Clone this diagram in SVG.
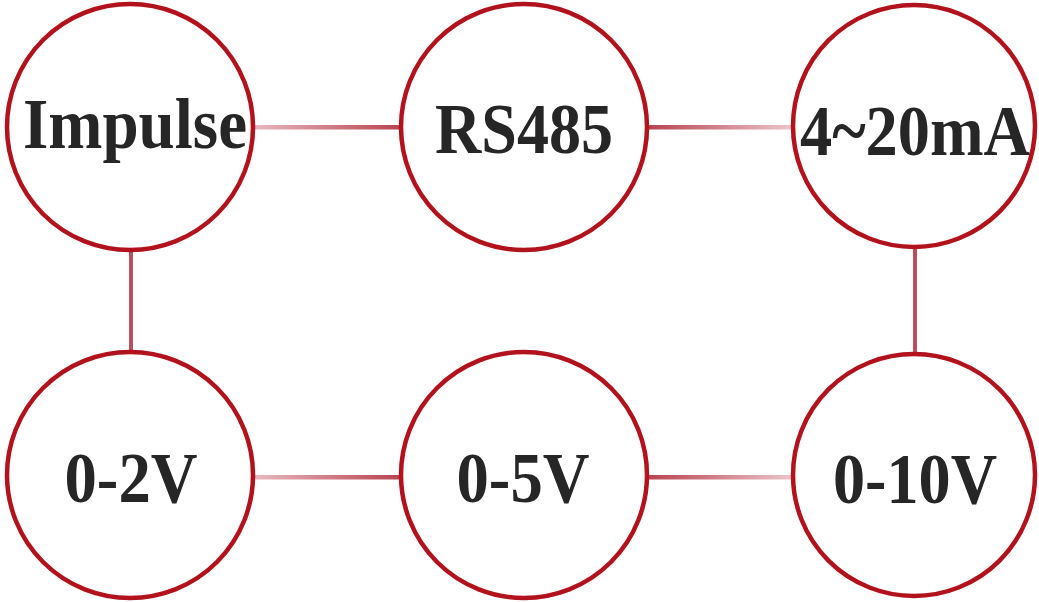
<svg xmlns="http://www.w3.org/2000/svg" width="1039" height="602" viewBox="0 0 1039 602">
  <style>
    .node circle { fill: #ffffff; stroke: #b2121c; stroke-width: 4.5; }
    .node text { font-family: "Liberation Serif", "Times New Roman", serif; font-weight: bold; font-size: 72px; fill: #262626; text-anchor: middle; }
    .conn rect { stroke: none; }
  </style>
  <defs>
    <linearGradient id="gUp" x1="0" y1="0" x2="1" y2="0">
      <stop offset="0" stop-color="#e8b9c0"/>
      <stop offset="1" stop-color="#b8424f"/>
    </linearGradient>
    <linearGradient id="gDown" x1="0" y1="0" x2="1" y2="0">
      <stop offset="0" stop-color="#b8424f"/>
      <stop offset="1" stop-color="#ecc7cc"/>
    </linearGradient>
  </defs>
  <rect width="1039" height="602" fill="#ffffff"/>
  <g id="connectors" class="conn">
    <rect x="254" y="125" width="148" height="4.5" fill="url(#gUp)"/>
    <rect x="646" y="125" width="148" height="4.5" fill="url(#gDown)"/>
    <rect x="254" y="475" width="148" height="4.5" fill="url(#gUp)"/>
    <rect x="646" y="475" width="148" height="4.5" fill="url(#gDown)"/>
    <rect x="129" y="249" width="4" height="105" fill="#b5505c"/>
    <rect x="913" y="246" width="4" height="108" fill="#b5505c"/>
  </g>
  <g id="node-impulse" class="node">
    <circle cx="130" cy="127" r="123"/>
    <text x="135" y="148" textLength="224" lengthAdjust="spacingAndGlyphs">Impulse</text>
  </g>
  <g id="node-rs485" class="node">
    <circle cx="524" cy="127" r="123"/>
    <text x="524" y="153" textLength="178" lengthAdjust="spacingAndGlyphs">RS485</text>
  </g>
  <g id="node-4-20ma" class="node">
    <circle cx="914" cy="126" r="121"/>
    <text x="915" y="155" textLength="230" lengthAdjust="spacingAndGlyphs">4~20mA</text>
  </g>
  <g id="node-0-2v" class="node">
    <circle cx="130" cy="475" r="123"/>
    <text x="131" y="502" textLength="133" lengthAdjust="spacingAndGlyphs">0-2V</text>
  </g>
  <g id="node-0-5v" class="node">
    <circle cx="524" cy="475" r="123"/>
    <text x="523" y="502" textLength="133" lengthAdjust="spacingAndGlyphs">0-5V</text>
  </g>
  <g id="node-0-10v" class="node">
    <circle cx="914" cy="475" r="121"/>
    <text x="915" y="503" textLength="164" lengthAdjust="spacingAndGlyphs">0-10V</text>
  </g>
</svg>
